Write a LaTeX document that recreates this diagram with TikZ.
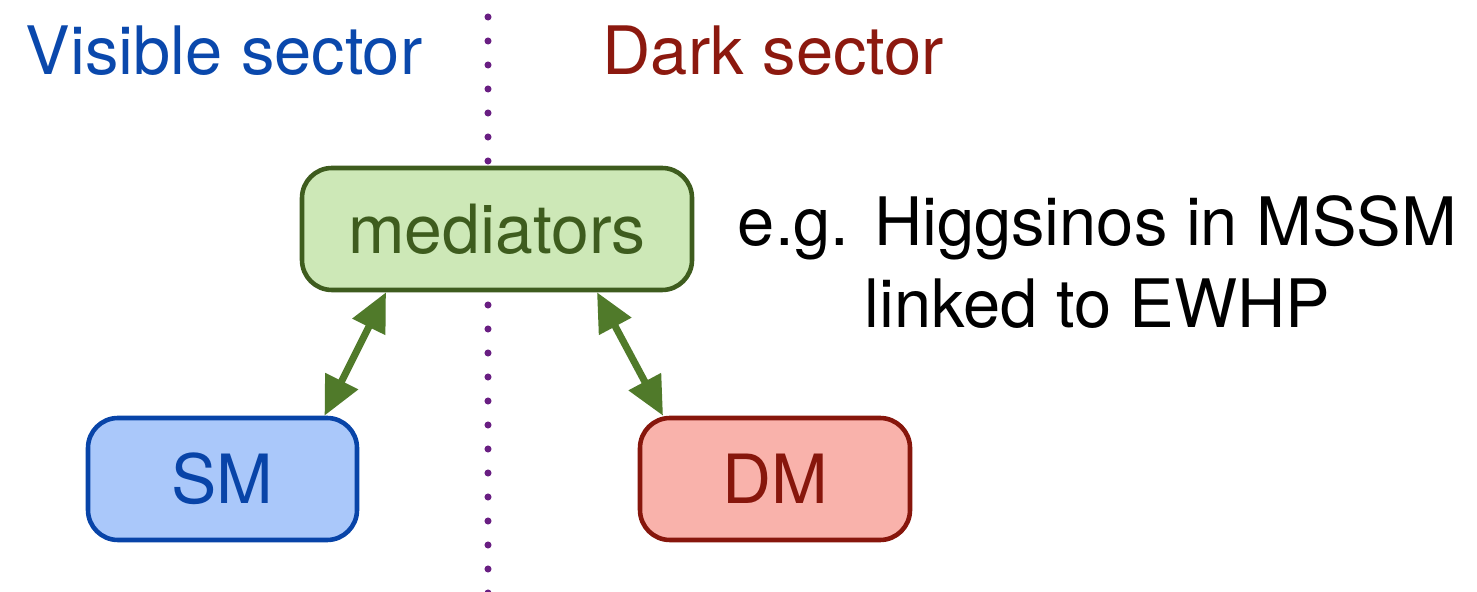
\documentclass[tikz,border=0pt]{standalone}
\usepackage{fontspec}
\setmainfont{TeX Gyre Heros}
\usetikzlibrary{arrows.meta}
\definecolor{visblue}{RGB}{10,72,172}
\definecolor{darkred}{RGB}{140,25,15}
\definecolor{medfill}{RGB}{205,232,183}
\definecolor{medline}{RGB}{62,92,30}
\definecolor{arrgreen}{RGB}{80,122,42}
\definecolor{smfill}{RGB}{170,200,250}
\definecolor{smline}{RGB}{8,68,168}
\definecolor{dmfill}{RGB}{249,178,171}
\definecolor{dmline}{RGB}{135,22,12}
\definecolor{dotpurple}{RGB}{105,30,130}
\tikzset{
  box/.style={rounded corners=30*0.01cm, line width=1.3pt, minimum height=122*0.01cm, inner sep=0pt, font=\fontsize{19.3}{23}\selectfont},
  arr/.style={arrgreen, line width=2pt, {Triangle[length=11pt,width=10pt]}-{Triangle[length=11pt,width=10pt]}},
  title/.style={anchor=base west, inner sep=0pt, font=\fontsize{19}{23}\selectfont},
  note/.style={align=center, anchor=base, inner sep=0pt, font=\fontsize{19}{23.6}\selectfont}
}
\begin{document}
\begin{tikzpicture}[x=0.01cm,y=-0.01cm]
\useasboundingbox (0,0) rectangle (1477,592);
\coordinate (dtop) at (488,17);
\coordinate (dbot) at (488,594);
\draw[dotpurple, line width=2pt, line cap=round, dash pattern=on 0pt off 24*0.01cm] (dtop) -- (dbot);
\node[title, text=visblue] (vis) at (25,75) {Visible sector};
\node[title, text=darkred] (dark) at (602,75) {Dark sector};
\node[box, draw=medline, fill=medfill, text=medline, minimum width=390*0.01cm] (med) at (497,229) {mediators};
\node[box, draw=smline, fill=smfill, text=smline, minimum width=269*0.01cm] (sm) at (222.5,479) {SM};
\node[box, draw=dmline, fill=dmfill, text=dmline, minimum width=270*0.01cm] (dm) at (775,479) {DM};
\draw[arr] ([xshift=-111*0.01cm]med.south) -- ([xshift=102*0.01cm]sm.north);
\draw[arr] ([xshift=100*0.01cm]med.south) -- ([xshift=-112*0.01cm]dm.north);
\node[note] (eg) at (1097.5,328) {e.g. Higgsinos in MSSM\\linked to EWHP};
\end{tikzpicture}
\end{document}
